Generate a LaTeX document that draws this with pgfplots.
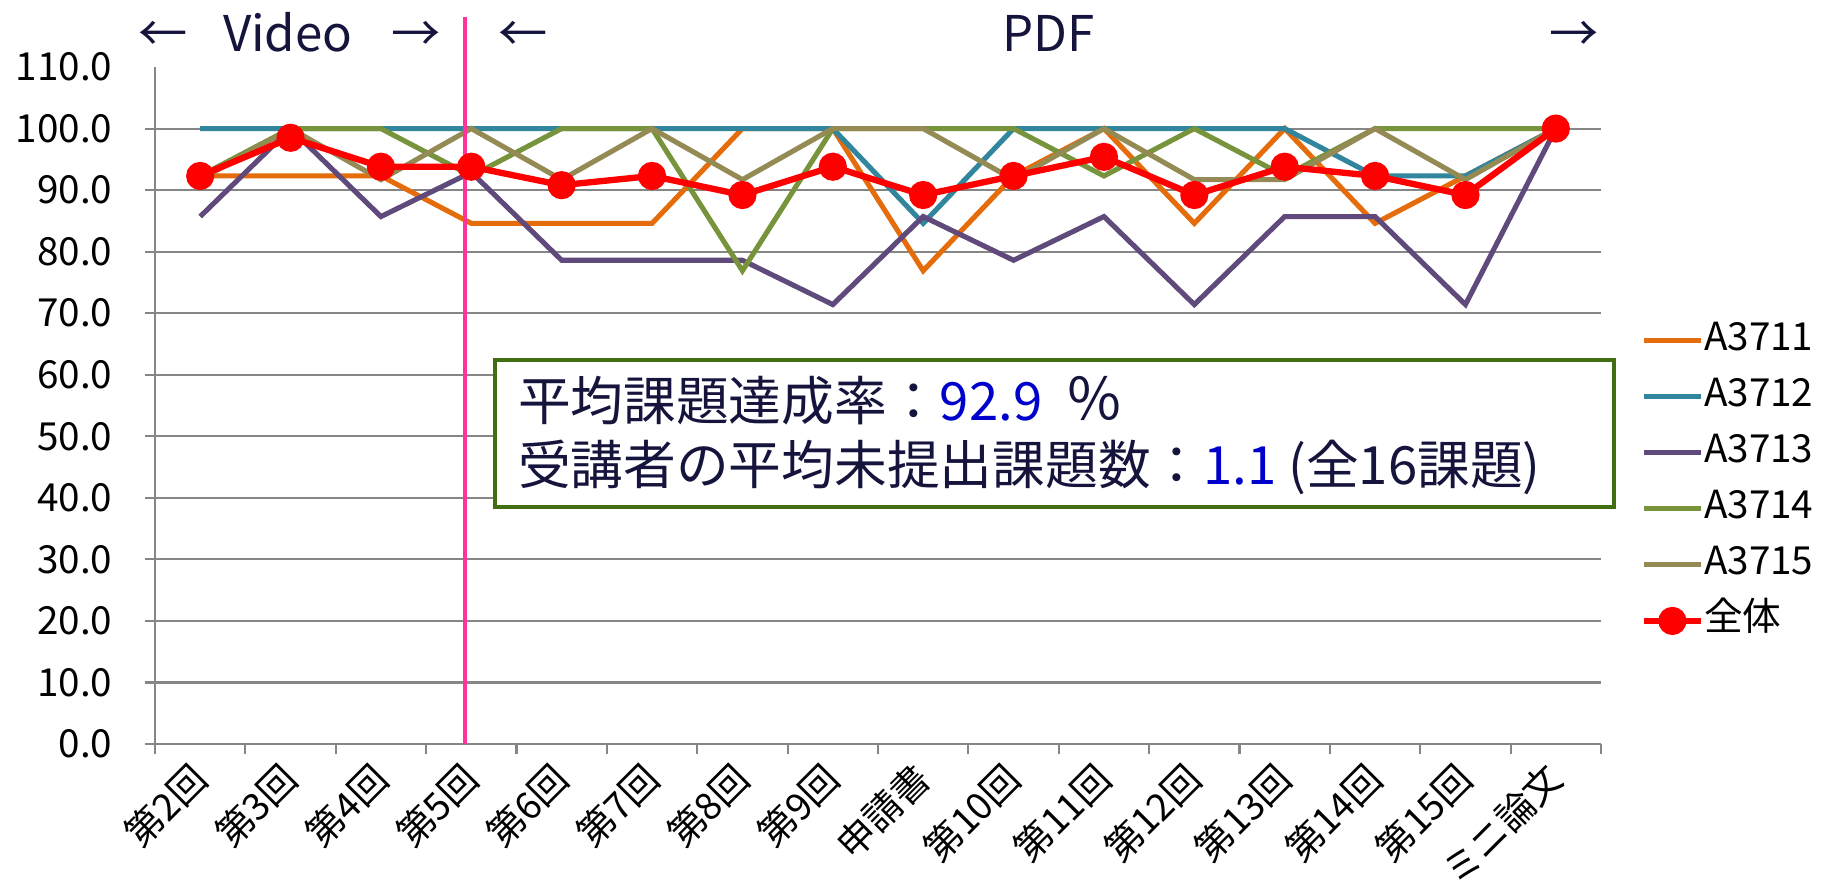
\documentclass[border=0pt]{standalone}
\usepackage{fontspec}
\setmainfont{Noto Sans CJK JP}
\usepackage{pgfplots}
\usepackage{pgfplotstable}
\pgfplotsset{compat=1.18}
\definecolor{cA}{RGB}{228,108,10}
\definecolor{cB}{RGB}{49,133,156}
\definecolor{cC}{RGB}{96,74,123}
\definecolor{cD}{RGB}{119,147,60}
\definecolor{cE}{RGB}{148,138,84}
\definecolor{cT}{RGB}{255,0,0}
\definecolor{pinkline}{RGB}{255,51,153}
\definecolor{boxgreen}{RGB}{64,110,16}
\definecolor{navy}{RGB}{20,20,60}
\definecolor{bluenum}{RGB}{0,0,204}
\definecolor{axgray}{RGB}{134,134,134}

\pgfplotstableread{
x  a     b     c     d     e     t
0  92.3  100   85.7  92.3  91.7  92.3
1  92.3  100   100   100   100   98.5
2  92.3  100   85.7  100   91.7  93.8
3  84.6  100   92.9  92.3  100   93.8
4  84.6  100   78.6  100   91.7  90.8
5  84.6  100   78.6  100   100   92.3
6  100   100   78.6  76.9  91.7  89.2
7  100   100   71.4  100   100   93.8
8  76.9  84.6  85.7  100   100   89.2
9  92.3  100   78.6  100   91.7  92.3
10 100   100   85.7  92.3  100   95.4
11 84.6  100   71.4  100   91.7  89.2
12 100   100   85.7  92.3  91.7  93.8
13 84.6  92.3  85.7  100   100   92.3
14 92.3  92.3  71.4  100   91.7  89.2
15 100   100   100   100   100   100
}\data

\begin{document}
\begin{tikzpicture}
\path[use as bounding box] (-15.5mm,-14.7mm) rectangle (166.7mm,74.4mm);
\begin{axis}[
  at={(0,0)}, anchor=south west,
  scale only axis, width=144.6mm, height=67.7mm,
  xmin=-0.5, xmax=15.5, ymin=0, ymax=110,
  axis x line*=bottom, axis y line*=left,
  axis line style={draw=axgray, line width=0.6pt},
  tick align=outside,
  major tick length=1mm,
  tick style={draw=axgray, line width=0.6pt},
  xtick={-0.5,0.5,...,15.5},
  xticklabels={},
  extra x ticks={0,1,...,15},
  extra x tick labels={第2回,第3回,第4回,第5回,第6回,第7回,第8回,第9回,申請書,第10回,第11回,第12回,第13回,第14回,第15回,ミニ論文},
  extra x tick style={tick style={draw=none},
    xticklabel style={yshift=-1.7mm, rotate=45, anchor=east, inner sep=0pt, font=\fontsize{10.7}{13}\selectfont}},
  ytick={0,10,...,100},
  extra y ticks={110},
  extra y tick style={grid=none, tick style={draw=none}},
  ymajorgrids,
  grid style={draw=axgray, line width=0.6pt},
  yticklabel style={/pgf/number format/fixed, /pgf/number format/fixed zerofill, /pgf/number format/precision=1,
    font=\fontsize{11}{13}\selectfont, inner sep=0pt, xshift=-3.2mm},
  /pgf/number format/assume math mode=true,
  clip=false,
  legend image code/.code={\draw[mark repeat=2,mark phase=2] plot coordinates {(0mm,0mm) (2.85mm,0mm) (5.7mm,0mm)};},
  legend style={at={(1.027,0.623)}, anchor=north west, draw=none, fill=none, inner sep=0pt,
    font=\fontsize{11}{13}\selectfont, row sep=2mm,
    nodes={inner sep=0pt, text height=2.8mm, text depth=0.8mm},
    /tikz/every even column/.append style={column sep=0.6mm}},
  legend cell align=left,
]
\addplot[cA, line width=1.45pt, no marks] table[x=x,y=a] {\data};
\addplot[cB, line width=1.45pt, no marks] table[x=x,y=b] {\data};
\addplot[cC, line width=1.45pt, no marks] table[x=x,y=c] {\data};
\addplot[cD, line width=1.45pt, no marks] table[x=x,y=d] {\data};
\addplot[cE, line width=1.45pt, no marks] table[x=x,y=e] {\data};
\addplot[cT, line width=1.8pt, mark=*, mark size=3.1pt, mark options={fill=cT, draw=cT}] table[x=x,y=t] {\data};
\legend{A3711,A3712,A3713,A3714,A3715,全体}
\addplot[pinkline, line width=0.9pt, no marks, forget plot] coordinates {(2.93,0) (2.93,118.1)};
\draw[boxgreen, line width=1.15pt, fill=white] (axis cs:3.263,38.5) rectangle (axis cs:15.64,62.4);
\node[anchor=base west, inner sep=0pt, text=navy, font=\fontsize{15}{18}\selectfont] at (axis cs:3.51,52.6) {平均課題達成率：\textcolor{bluenum}{92.9}\ \ \fontsize{16.5}{18}\selectfont ％};
\node[anchor=base west, inner sep=0pt, text=navy, font=\fontsize{15}{18}\selectfont] at (axis cs:3.51,42.2) {受講者の平均未提出課題数：\textcolor{bluenum}{1.1} (全16課題)};
\node[anchor=base, inner sep=0pt, text=navy, font=\fontsize{14}{16}\selectfont] at (axis cs:-0.41,112.6) {←};
\node[anchor=base, inner sep=0pt, text=navy, font=\fontsize{14}{16}\selectfont] at (axis cs:0.97,112.6) {Video};
\node[anchor=base, inner sep=0pt, text=navy, font=\fontsize{14}{16}\selectfont] at (axis cs:2.39,112.6) {→};
\node[anchor=base, inner sep=0pt, text=navy, font=\fontsize{14}{16}\selectfont] at (axis cs:3.57,112.6) {←};
\node[anchor=base, inner sep=0pt, text=navy, font=\fontsize{14}{16}\selectfont] at (axis cs:9.39,112.6) {PDF};
\node[anchor=base, inner sep=0pt, text=navy, font=\fontsize{14}{16}\selectfont] at (axis cs:15.2,112.6) {→};
\end{axis}
\end{tikzpicture}
\end{document}
